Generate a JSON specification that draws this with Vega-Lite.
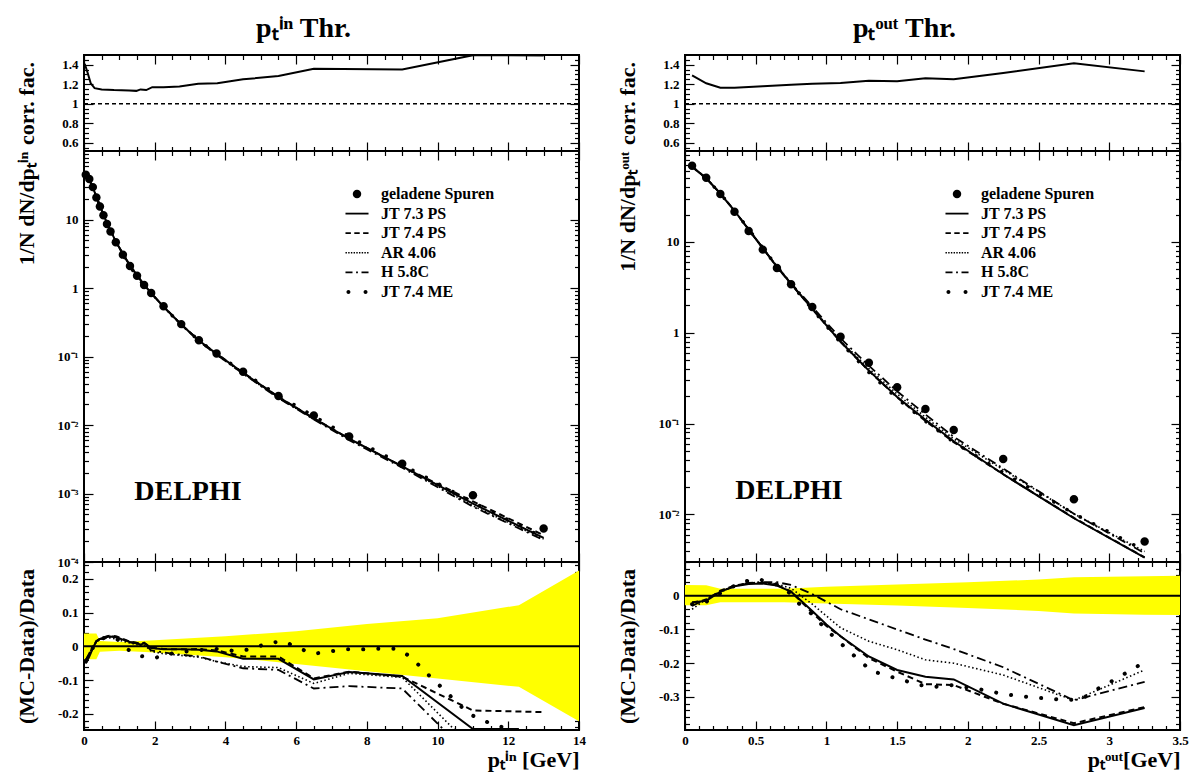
{
"$schema": "https://vega.github.io/schema/vega-lite/v6.json",
"padding": {"left": 14, "right": 0, "top": 13, "bottom": 0},
"background": "white",
"config": {
  "font": "Liberation Serif",
  "text": {"font": "Liberation Serif"},
  "view": {"stroke": "black", "strokeWidth": 2},
  "axis": {"grid": false, "domain": false, "tickColor": "black", "tickWidth": 1.2, "labelFont": "Liberation Serif", "labelFontWeight": "bold", "labelFontSize": 13, "labelColor": "black", "titleFont": "Liberation Serif", "titleFontWeight": "bold", "titleFontSize": 22, "titleColor": "black", "labelOverlap": false, "labelFlush": false, "labelBound": false}
},
"datasets": {
  "inCorr": [{"x":0.02,"y":1.41},{"x":0.1,"y":1.32},{"x":0.19,"y":1.21},{"x":0.3,"y":1.16},{"x":0.5,"y":1.147},{"x":0.85,"y":1.14},{"x":1.28,"y":1.137},{"x":1.48,"y":1.132},{"x":1.6,"y":1.147},{"x":1.76,"y":1.14},{"x":1.93,"y":1.17},{"x":2.25,"y":1.17},{"x":2.7,"y":1.178},{"x":3.23,"y":1.205},{"x":3.77,"y":1.21},{"x":4.5,"y":1.25},{"x":5.5,"y":1.284},{"x":6.5,"y":1.358},{"x":9.0,"y":1.352},{"x":11.0,"y":1.498},{"x":13.0,"y":1.495}],
  "outCorr": [{"x":0.05,"y":1.29},{"x":0.15,"y":1.21},{"x":0.25,"y":1.165},{"x":0.35,"y":1.165},{"x":0.55,"y":1.18},{"x":0.75,"y":1.195},{"x":0.9,"y":1.205},{"x":1.1,"y":1.212},{"x":1.3,"y":1.235},{"x":1.5,"y":1.23},{"x":1.7,"y":1.262},{"x":1.9,"y":1.25},{"x":2.25,"y":1.315},{"x":2.75,"y":1.415},{"x":3.25,"y":1.332}],
  "inBand": [{"x":0,"lo":-0.038,"hi":0.038},{"x":0.35,"lo":-0.038,"hi":0.038},{"x":0.45,"lo":-0.016,"hi":0.016},{"x":1,"lo":-0.013,"hi":0.013},{"x":2,"lo":-0.018,"hi":0.018},{"x":4,"lo":-0.032,"hi":0.03},{"x":6,"lo":-0.052,"hi":0.045},{"x":8,"lo":-0.074,"hi":0.066},{"x":10,"lo":-0.095,"hi":0.083},{"x":12.3,"lo":-0.12,"hi":0.122},{"x":14,"lo":-0.222,"hi":0.225}],
  "outBand": [{"x":0,"lo":-0.028,"hi":0.032},{"x":0.15,"lo":-0.028,"hi":0.031},{"x":0.25,"lo":-0.019,"hi":0.021},{"x":0.7,"lo":-0.019,"hi":0.021},{"x":1,"lo":-0.023,"hi":0.027},{"x":1.5,"lo":-0.029,"hi":0.033},{"x":2,"lo":-0.036,"hi":0.04},{"x":2.5,"lo":-0.045,"hi":0.048},{"x":2.75,"lo":-0.053,"hi":0.055},{"x":3.25,"lo":-0.056,"hi":0.058},{"x":3.5,"lo":-0.057,"hi":0.059}],
  "inMain": [
    {"s":"geladene Spuren","x":0.05,"y":45},{"s":"geladene Spuren","x":0.15,"y":39},{"s":"geladene Spuren","x":0.25,"y":29.7},{"s":"geladene Spuren","x":0.35,"y":21},{"s":"geladene Spuren","x":0.45,"y":15.5},{"s":"geladene Spuren","x":0.55,"y":11.5},{"s":"geladene Spuren","x":0.65,"y":8.6},{"s":"geladene Spuren","x":0.75,"y":6.7},{"s":"geladene Spuren","x":0.9,"y":4.66},{"s":"geladene Spuren","x":1.1,"y":3.07},{"s":"geladene Spuren","x":1.3,"y":2.1},{"s":"geladene Spuren","x":1.5,"y":1.51},{"s":"geladene Spuren","x":1.7,"y":1.11},{"s":"geladene Spuren","x":1.9,"y":0.845},{"s":"geladene Spuren","x":2.25,"y":0.54},{"s":"geladene Spuren","x":2.75,"y":0.297},{"s":"geladene Spuren","x":3.25,"y":0.173},{"s":"geladene Spuren","x":3.75,"y":0.111},{"s":"geladene Spuren","x":4.5,"y":0.06},{"s":"geladene Spuren","x":5.5,"y":0.0265},{"s":"geladene Spuren","x":6.5,"y":0.0138},{"s":"geladene Spuren","x":7.5,"y":0.00682},{"s":"geladene Spuren","x":9,"y":0.00272},{"s":"geladene Spuren","x":11,"y":0.000946},{"s":"geladene Spuren","x":13,"y":0.000308},
    {"s":"JT 7.3 PS","x":0.05,"y":42.8},{"s":"JT 7.3 PS","x":0.15,"y":37.8},{"s":"JT 7.3 PS","x":0.25,"y":29.6},{"s":"JT 7.3 PS","x":0.35,"y":21.3},{"s":"JT 7.3 PS","x":0.45,"y":15.8},{"s":"JT 7.3 PS","x":0.55,"y":11.8},{"s":"JT 7.3 PS","x":0.65,"y":8.84},{"s":"JT 7.3 PS","x":0.75,"y":6.89},{"s":"JT 7.3 PS","x":0.9,"y":4.79},{"s":"JT 7.3 PS","x":1.1,"y":3.13},{"s":"JT 7.3 PS","x":1.3,"y":2.13},{"s":"JT 7.3 PS","x":1.5,"y":1.525},{"s":"JT 7.3 PS","x":1.7,"y":1.122},{"s":"JT 7.3 PS","x":1.9,"y":0.841},{"s":"JT 7.3 PS","x":2.25,"y":0.535},{"s":"JT 7.3 PS","x":2.75,"y":0.294},{"s":"JT 7.3 PS","x":3.25,"y":0.171},{"s":"JT 7.3 PS","x":3.75,"y":0.1093},{"s":"JT 7.3 PS","x":4.5,"y":0.0578},{"s":"JT 7.3 PS","x":5.5,"y":0.0255},{"s":"JT 7.3 PS","x":6.5,"y":0.01245},{"s":"JT 7.3 PS","x":7.5,"y":0.0063},{"s":"JT 7.3 PS","x":9,"y":0.00248},{"s":"JT 7.3 PS","x":11,"y":0.00071},{"s":"JT 7.3 PS","x":13,"y":0.000225},
    {"s":"JT 7.4 PS","x":0.05,"y":43.2},{"s":"JT 7.4 PS","x":0.15,"y":38.0},{"s":"JT 7.4 PS","x":0.25,"y":29.7},{"s":"JT 7.4 PS","x":0.35,"y":21.3},{"s":"JT 7.4 PS","x":0.45,"y":15.8},{"s":"JT 7.4 PS","x":0.55,"y":11.8},{"s":"JT 7.4 PS","x":0.65,"y":8.86},{"s":"JT 7.4 PS","x":0.75,"y":6.91},{"s":"JT 7.4 PS","x":0.9,"y":4.8},{"s":"JT 7.4 PS","x":1.1,"y":3.14},{"s":"JT 7.4 PS","x":1.3,"y":2.13},{"s":"JT 7.4 PS","x":1.5,"y":1.525},{"s":"JT 7.4 PS","x":1.7,"y":1.121},{"s":"JT 7.4 PS","x":1.9,"y":0.842},{"s":"JT 7.4 PS","x":2.25,"y":0.536},{"s":"JT 7.4 PS","x":2.75,"y":0.294},{"s":"JT 7.4 PS","x":3.25,"y":0.172},{"s":"JT 7.4 PS","x":3.75,"y":0.1097},{"s":"JT 7.4 PS","x":4.5,"y":0.0582},{"s":"JT 7.4 PS","x":5.5,"y":0.0257},{"s":"JT 7.4 PS","x":6.5,"y":0.01249},{"s":"JT 7.4 PS","x":7.5,"y":0.00631},{"s":"JT 7.4 PS","x":9,"y":0.00248},{"s":"JT 7.4 PS","x":11,"y":0.000766},{"s":"JT 7.4 PS","x":13,"y":0.000246},
    {"s":"AR 4.06","x":0.05,"y":43.0},{"s":"AR 4.06","x":0.15,"y":37.8},{"s":"AR 4.06","x":0.25,"y":29.6},{"s":"AR 4.06","x":0.35,"y":21.3},{"s":"AR 4.06","x":0.45,"y":15.8},{"s":"AR 4.06","x":0.55,"y":11.75},{"s":"AR 4.06","x":0.65,"y":8.82},{"s":"AR 4.06","x":0.75,"y":6.87},{"s":"AR 4.06","x":0.9,"y":4.76},{"s":"AR 4.06","x":1.1,"y":3.12},{"s":"AR 4.06","x":1.3,"y":2.12},{"s":"AR 4.06","x":1.5,"y":1.518},{"s":"AR 4.06","x":1.7,"y":1.116},{"s":"AR 4.06","x":1.9,"y":0.832},{"s":"AR 4.06","x":2.25,"y":0.528},{"s":"AR 4.06","x":2.75,"y":0.289},{"s":"AR 4.06","x":3.25,"y":0.1675},{"s":"AR 4.06","x":3.75,"y":0.106},{"s":"AR 4.06","x":4.5,"y":0.0564},{"s":"AR 4.06","x":5.5,"y":0.0248},{"s":"AR 4.06","x":6.5,"y":0.01228},{"s":"AR 4.06","x":7.5,"y":0.00627},{"s":"AR 4.06","x":9,"y":0.00247},{"s":"AR 4.06","x":11,"y":0.000662},{"s":"AR 4.06","x":13,"y":0.000216},
    {"s":"H 5.8C","x":0.05,"y":43.2},{"s":"H 5.8C","x":0.15,"y":38.2},{"s":"H 5.8C","x":0.25,"y":29.7},{"s":"H 5.8C","x":0.35,"y":21.3},{"s":"H 5.8C","x":0.45,"y":15.8},{"s":"H 5.8C","x":0.55,"y":11.8},{"s":"H 5.8C","x":0.65,"y":8.84},{"s":"H 5.8C","x":0.75,"y":6.9},{"s":"H 5.8C","x":0.9,"y":4.79},{"s":"H 5.8C","x":1.1,"y":3.13},{"s":"H 5.8C","x":1.3,"y":2.13},{"s":"H 5.8C","x":1.5,"y":1.522},{"s":"H 5.8C","x":1.7,"y":1.119},{"s":"H 5.8C","x":1.9,"y":0.835},{"s":"H 5.8C","x":2.25,"y":0.53},{"s":"H 5.8C","x":2.75,"y":0.29},{"s":"H 5.8C","x":3.25,"y":0.168},{"s":"H 5.8C","x":3.75,"y":0.106},{"s":"H 5.8C","x":4.5,"y":0.0561},{"s":"H 5.8C","x":5.5,"y":0.0246},{"s":"H 5.8C","x":6.5,"y":0.01208},{"s":"H 5.8C","x":7.5,"y":0.00602},{"s":"H 5.8C","x":9,"y":0.00238},{"s":"H 5.8C","x":11,"y":0.000643},{"s":"H 5.8C","x":13,"y":0.000209},
    {"s":"JT 7.4 ME","x":0.05,"y":43.0},{"s":"JT 7.4 ME","x":0.15,"y":38.0},{"s":"JT 7.4 ME","x":0.25,"y":29.6},{"s":"JT 7.4 ME","x":0.35,"y":21.2},{"s":"JT 7.4 ME","x":0.45,"y":15.8},{"s":"JT 7.4 ME","x":0.55,"y":11.8},{"s":"JT 7.4 ME","x":0.65,"y":8.86},{"s":"JT 7.4 ME","x":0.75,"y":6.9},{"s":"JT 7.4 ME","x":0.9,"y":4.76},{"s":"JT 7.4 ME","x":1.1,"y":3.07},{"s":"JT 7.4 ME","x":1.3,"y":2.07},{"s":"JT 7.4 ME","x":1.5,"y":1.47},{"s":"JT 7.4 ME","x":1.7,"y":1.075},{"s":"JT 7.4 ME","x":1.9,"y":0.815},{"s":"JT 7.4 ME","x":2.25,"y":0.527},{"s":"JT 7.4 ME","x":2.75,"y":0.292},{"s":"JT 7.4 ME","x":3.25,"y":0.171},{"s":"JT 7.4 ME","x":3.75,"y":0.1101},{"s":"JT 7.4 ME","x":4.5,"y":0.0593},{"s":"JT 7.4 ME","x":5.5,"y":0.0268},{"s":"JT 7.4 ME","x":6.5,"y":0.0135},{"s":"JT 7.4 ME","x":7.5,"y":0.00676},{"s":"JT 7.4 ME","x":9,"y":0.00264},{"s":"JT 7.4 ME","x":11,"y":0.000747},{"s":"JT 7.4 ME","x":13,"y":0.000228}
  ],
  "outMain": [
    {"s":"geladene Spuren","x":0.05,"y":68.9},{"s":"geladene Spuren","x":0.15,"y":50.8},{"s":"geladene Spuren","x":0.25,"y":33.6},{"s":"geladene Spuren","x":0.35,"y":21.4},{"s":"geladene Spuren","x":0.45,"y":13.2},{"s":"geladene Spuren","x":0.55,"y":8.22},{"s":"geladene Spuren","x":0.65,"y":5.16},{"s":"geladene Spuren","x":0.75,"y":3.41},{"s":"geladene Spuren","x":0.9,"y":1.92},{"s":"geladene Spuren","x":1.1,"y":0.903},{"s":"geladene Spuren","x":1.3,"y":0.467},{"s":"geladene Spuren","x":1.5,"y":0.252},{"s":"geladene Spuren","x":1.7,"y":0.145},{"s":"geladene Spuren","x":1.9,"y":0.085},{"s":"geladene Spuren","x":2.25,"y":0.0407},{"s":"geladene Spuren","x":2.75,"y":0.01475},{"s":"geladene Spuren","x":3.25,"y":0.00503},
    {"s":"JT 7.3 PS","x":0.05,"y":67.5},{"s":"JT 7.3 PS","x":0.15,"y":50.0},{"s":"JT 7.3 PS","x":0.25,"y":34.0},{"s":"JT 7.3 PS","x":0.35,"y":22.0},{"s":"JT 7.3 PS","x":0.45,"y":13.66},{"s":"JT 7.3 PS","x":0.55,"y":8.52},{"s":"JT 7.3 PS","x":0.65,"y":5.31},{"s":"JT 7.3 PS","x":0.75,"y":3.45},{"s":"JT 7.3 PS","x":0.9,"y":1.834},{"s":"JT 7.3 PS","x":1.1,"y":0.795},{"s":"JT 7.3 PS","x":1.3,"y":0.383},{"s":"JT 7.3 PS","x":1.5,"y":0.1966},{"s":"JT 7.3 PS","x":1.7,"y":0.1102},{"s":"JT 7.3 PS","x":1.9,"y":0.0639},{"s":"JT 7.3 PS","x":2.25,"y":0.0277},{"s":"JT 7.3 PS","x":2.75,"y":0.00909},{"s":"JT 7.3 PS","x":3.25,"y":0.00335},
    {"s":"JT 7.4 PS","x":0.05,"y":67.5},{"s":"JT 7.4 PS","x":0.15,"y":50.2},{"s":"JT 7.4 PS","x":0.25,"y":34.1},{"s":"JT 7.4 PS","x":0.35,"y":22.04},{"s":"JT 7.4 PS","x":0.45,"y":13.69},{"s":"JT 7.4 PS","x":0.55,"y":8.53},{"s":"JT 7.4 PS","x":0.65,"y":5.33},{"s":"JT 7.4 PS","x":0.75,"y":3.45},{"s":"JT 7.4 PS","x":0.9,"y":1.824},{"s":"JT 7.4 PS","x":1.1,"y":0.795},{"s":"JT 7.4 PS","x":1.3,"y":0.381},{"s":"JT 7.4 PS","x":1.5,"y":0.1953},{"s":"JT 7.4 PS","x":1.7,"y":0.107},{"s":"JT 7.4 PS","x":1.9,"y":0.0625},{"s":"JT 7.4 PS","x":2.25,"y":0.0277},{"s":"JT 7.4 PS","x":2.75,"y":0.00917},{"s":"JT 7.4 PS","x":3.25,"y":0.00337},
    {"s":"AR 4.06","x":0.05,"y":66.1},{"s":"AR 4.06","x":0.15,"y":50.3},{"s":"AR 4.06","x":0.25,"y":33.9},{"s":"AR 4.06","x":0.35,"y":22.04},{"s":"AR 4.06","x":0.45,"y":13.7},{"s":"AR 4.06","x":0.55,"y":8.55},{"s":"AR 4.06","x":0.65,"y":5.34},{"s":"AR 4.06","x":0.75,"y":3.49},{"s":"AR 4.06","x":0.9,"y":1.872},{"s":"AR 4.06","x":1.1,"y":0.817},{"s":"AR 4.06","x":1.3,"y":0.404},{"s":"AR 4.06","x":1.5,"y":0.2117},{"s":"AR 4.06","x":1.7,"y":0.1175},{"s":"AR 4.06","x":1.9,"y":0.068},{"s":"AR 4.06","x":2.25,"y":0.0311},{"s":"AR 4.06","x":2.75,"y":0.01018},{"s":"AR 4.06","x":3.25,"y":0.00392},
    {"s":"H 5.8C","x":0.05,"y":66.8},{"s":"H 5.8C","x":0.15,"y":50.3},{"s":"H 5.8C","x":0.25,"y":34.0},{"s":"H 5.8C","x":0.35,"y":22.0},{"s":"H 5.8C","x":0.45,"y":13.7},{"s":"H 5.8C","x":0.55,"y":8.55},{"s":"H 5.8C","x":0.65,"y":5.37},{"s":"H 5.8C","x":0.75,"y":3.52},{"s":"H 5.8C","x":0.9,"y":1.93},{"s":"H 5.8C","x":1.1,"y":0.867},{"s":"H 5.8C","x":1.3,"y":0.434},{"s":"H 5.8C","x":1.5,"y":0.2268},{"s":"H 5.8C","x":1.7,"y":0.1262},{"s":"H 5.8C","x":1.9,"y":0.0716},{"s":"H 5.8C","x":2.25,"y":0.0321},{"s":"H 5.8C","x":2.75,"y":0.01018},{"s":"H 5.8C","x":3.25,"y":0.00375},
    {"s":"JT 7.4 ME","x":0.05,"y":67.2},{"s":"JT 7.4 ME","x":0.15,"y":49.9},{"s":"JT 7.4 ME","x":0.25,"y":33.9},{"s":"JT 7.4 ME","x":0.35,"y":22.04},{"s":"JT 7.4 ME","x":0.45,"y":13.8},{"s":"JT 7.4 ME","x":0.55,"y":8.61},{"s":"JT 7.4 ME","x":0.65,"y":5.34},{"s":"JT 7.4 ME","x":0.75,"y":3.41},{"s":"JT 7.4 ME","x":0.9,"y":1.814},{"s":"JT 7.4 ME","x":1.1,"y":0.777},{"s":"JT 7.4 ME","x":1.3,"y":0.367},{"s":"JT 7.4 ME","x":1.5,"y":0.189},{"s":"JT 7.4 ME","x":1.7,"y":0.1061},{"s":"JT 7.4 ME","x":1.9,"y":0.0625},{"s":"JT 7.4 ME","x":2.25,"y":0.0289},{"s":"JT 7.4 ME","x":2.75,"y":0.01022},{"s":"JT 7.4 ME","x":3.25,"y":0.00402}
  ],
  "inRatio": [
    {"s":"JT 7.3 PS","x":0.05,"y":-0.05},{"s":"JT 7.3 PS","x":0.15,"y":-0.03},{"s":"JT 7.3 PS","x":0.25,"y":-0.005},{"s":"JT 7.3 PS","x":0.35,"y":0.015},{"s":"JT 7.3 PS","x":0.45,"y":0.022},{"s":"JT 7.3 PS","x":0.55,"y":0.024},{"s":"JT 7.3 PS","x":0.65,"y":0.028},{"s":"JT 7.3 PS","x":0.75,"y":0.029},{"s":"JT 7.3 PS","x":0.9,"y":0.027},{"s":"JT 7.3 PS","x":1.1,"y":0.02},{"s":"JT 7.3 PS","x":1.3,"y":0.013},{"s":"JT 7.3 PS","x":1.5,"y":0.01},{"s":"JT 7.3 PS","x":1.6,"y":0.004},{"s":"JT 7.3 PS","x":1.7,"y":0.011},{"s":"JT 7.3 PS","x":1.9,"y":-0.005},{"s":"JT 7.3 PS","x":2.25,"y":-0.009},{"s":"JT 7.3 PS","x":2.75,"y":-0.009},{"s":"JT 7.3 PS","x":3.25,"y":-0.01},{"s":"JT 7.3 PS","x":3.75,"y":-0.015},{"s":"JT 7.3 PS","x":4.5,"y":-0.037},{"s":"JT 7.3 PS","x":5.5,"y":-0.037},{"s":"JT 7.3 PS","x":6.5,"y":-0.098},{"s":"JT 7.3 PS","x":7.5,"y":-0.076},{"s":"JT 7.3 PS","x":9,"y":-0.088},{"s":"JT 7.3 PS","x":11,"y":-0.245},{"s":"JT 7.3 PS","x":12.3,"y":-0.245},
    {"s":"JT 7.4 PS","x":0.05,"y":-0.04},{"s":"JT 7.4 PS","x":0.15,"y":-0.025},{"s":"JT 7.4 PS","x":0.25,"y":0},{"s":"JT 7.4 PS","x":0.35,"y":0.015},{"s":"JT 7.4 PS","x":0.45,"y":0.022},{"s":"JT 7.4 PS","x":0.55,"y":0.026},{"s":"JT 7.4 PS","x":0.65,"y":0.03},{"s":"JT 7.4 PS","x":0.75,"y":0.032},{"s":"JT 7.4 PS","x":0.9,"y":0.03},{"s":"JT 7.4 PS","x":1.1,"y":0.022},{"s":"JT 7.4 PS","x":1.3,"y":0.014},{"s":"JT 7.4 PS","x":1.5,"y":0.01},{"s":"JT 7.4 PS","x":1.7,"y":0.01},{"s":"JT 7.4 PS","x":1.9,"y":-0.004},{"s":"JT 7.4 PS","x":2.25,"y":-0.008},{"s":"JT 7.4 PS","x":2.75,"y":-0.009},{"s":"JT 7.4 PS","x":3.25,"y":-0.008},{"s":"JT 7.4 PS","x":3.75,"y":-0.012},{"s":"JT 7.4 PS","x":4.5,"y":-0.03},{"s":"JT 7.4 PS","x":5.5,"y":-0.03},{"s":"JT 7.4 PS","x":6.5,"y":-0.095},{"s":"JT 7.4 PS","x":7.5,"y":-0.075},{"s":"JT 7.4 PS","x":9,"y":-0.09},{"s":"JT 7.4 PS","x":10.5,"y":-0.165},{"s":"JT 7.4 PS","x":11,"y":-0.19},{"s":"JT 7.4 PS","x":13,"y":-0.195},
    {"s":"AR 4.06","x":0.05,"y":-0.045},{"s":"AR 4.06","x":0.15,"y":-0.03},{"s":"AR 4.06","x":0.25,"y":-0.005},{"s":"AR 4.06","x":0.35,"y":0.013},{"s":"AR 4.06","x":0.45,"y":0.02},{"s":"AR 4.06","x":0.55,"y":0.022},{"s":"AR 4.06","x":0.65,"y":0.025},{"s":"AR 4.06","x":0.75,"y":0.025},{"s":"AR 4.06","x":0.9,"y":0.022},{"s":"AR 4.06","x":1.1,"y":0.015},{"s":"AR 4.06","x":1.3,"y":0.01},{"s":"AR 4.06","x":1.5,"y":0.005},{"s":"AR 4.06","x":1.7,"y":0.005},{"s":"AR 4.06","x":1.9,"y":-0.015},{"s":"AR 4.06","x":2.25,"y":-0.022},{"s":"AR 4.06","x":2.75,"y":-0.027},{"s":"AR 4.06","x":3.25,"y":-0.032},{"s":"AR 4.06","x":3.75,"y":-0.045},{"s":"AR 4.06","x":4.5,"y":-0.06},{"s":"AR 4.06","x":5.5,"y":-0.063},{"s":"AR 4.06","x":6.5,"y":-0.11},{"s":"AR 4.06","x":7.5,"y":-0.08},{"s":"AR 4.06","x":9,"y":-0.092},{"s":"AR 4.06","x":10.6,"y":-0.26},
    {"s":"H 5.8C","x":0.05,"y":-0.04},{"s":"H 5.8C","x":0.15,"y":-0.02},{"s":"H 5.8C","x":0.25,"y":0},{"s":"H 5.8C","x":0.35,"y":0.015},{"s":"H 5.8C","x":0.45,"y":0.022},{"s":"H 5.8C","x":0.55,"y":0.025},{"s":"H 5.8C","x":0.65,"y":0.028},{"s":"H 5.8C","x":0.75,"y":0.03},{"s":"H 5.8C","x":0.9,"y":0.027},{"s":"H 5.8C","x":1.1,"y":0.02},{"s":"H 5.8C","x":1.3,"y":0.012},{"s":"H 5.8C","x":1.5,"y":0.008},{"s":"H 5.8C","x":1.7,"y":0.008},{"s":"H 5.8C","x":1.9,"y":-0.012},{"s":"H 5.8C","x":2.25,"y":-0.018},{"s":"H 5.8C","x":2.75,"y":-0.025},{"s":"H 5.8C","x":3.25,"y":-0.03},{"s":"H 5.8C","x":3.75,"y":-0.045},{"s":"H 5.8C","x":4.5,"y":-0.065},{"s":"H 5.8C","x":5.5,"y":-0.07},{"s":"H 5.8C","x":6.5,"y":-0.125},{"s":"H 5.8C","x":7.5,"y":-0.118},{"s":"H 5.8C","x":9,"y":-0.125},{"s":"H 5.8C","x":10.3,"y":-0.26},
    {"s":"JT 7.4 ME","x":0.05,"y":-0.045},{"s":"JT 7.4 ME","x":0.25,"y":-0.005},{"s":"JT 7.4 ME","x":0.45,"y":0.02},{"s":"JT 7.4 ME","x":0.7,"y":0.03},{"s":"JT 7.4 ME","x":0.95,"y":0.02},{"s":"JT 7.4 ME","x":1.17,"y":-0.005},{"s":"JT 7.4 ME","x":1.55,"y":-0.028},{"s":"JT 7.4 ME","x":1.98,"y":-0.035},{"s":"JT 7.4 ME","x":2.45,"y":-0.022},{"s":"JT 7.4 ME","x":2.9,"y":-0.015},{"s":"JT 7.4 ME","x":3.4,"y":-0.01},{"s":"JT 7.4 ME","x":3.85,"y":-0.007},{"s":"JT 7.4 ME","x":4.3,"y":-0.015},{"s":"JT 7.4 ME","x":4.75,"y":-0.008},{"s":"JT 7.4 ME","x":5.2,"y":0.01},{"s":"JT 7.4 ME","x":5.65,"y":0.015},{"s":"JT 7.4 ME","x":6.05,"y":-0.005},{"s":"JT 7.4 ME","x":6.5,"y":-0.022},{"s":"JT 7.4 ME","x":6.96,"y":-0.015},{"s":"JT 7.4 ME","x":7.42,"y":-0.009},{"s":"JT 7.4 ME","x":7.88,"y":-0.009},{"s":"JT 7.4 ME","x":8.37,"y":-0.007},{"s":"JT 7.4 ME","x":8.82,"y":-0.007},{"s":"JT 7.4 ME","x":9.2,"y":-0.028},{"s":"JT 7.4 ME","x":9.54,"y":-0.063},{"s":"JT 7.4 ME","x":9.86,"y":-0.097},{"s":"JT 7.4 ME","x":10.2,"y":-0.13},{"s":"JT 7.4 ME","x":10.53,"y":-0.165},{"s":"JT 7.4 ME","x":10.89,"y":-0.2},{"s":"JT 7.4 ME","x":11.29,"y":-0.22},{"s":"JT 7.4 ME","x":11.73,"y":-0.237},{"s":"JT 7.4 ME","x":11.94,"y":-0.242}
  ],
  "outRatio": [
    {"s":"JT 7.3 PS","x":0.05,"y":-0.02},{"s":"JT 7.3 PS","x":0.15,"y":-0.015},{"s":"JT 7.3 PS","x":0.25,"y":0.012},{"s":"JT 7.3 PS","x":0.35,"y":0.028},{"s":"JT 7.3 PS","x":0.45,"y":0.035},{"s":"JT 7.3 PS","x":0.55,"y":0.036},{"s":"JT 7.3 PS","x":0.65,"y":0.03},{"s":"JT 7.3 PS","x":0.75,"y":0.012},{"s":"JT 7.3 PS","x":0.9,"y":-0.045},{"s":"JT 7.3 PS","x":1.0,"y":-0.085},{"s":"JT 7.3 PS","x":1.1,"y":-0.12},{"s":"JT 7.3 PS","x":1.3,"y":-0.18},{"s":"JT 7.3 PS","x":1.5,"y":-0.22},{"s":"JT 7.3 PS","x":1.7,"y":-0.24},{"s":"JT 7.3 PS","x":1.9,"y":-0.248},{"s":"JT 7.3 PS","x":2.25,"y":-0.32},{"s":"JT 7.3 PS","x":2.75,"y":-0.384},{"s":"JT 7.3 PS","x":3.25,"y":-0.333},
    {"s":"JT 7.4 PS","x":0.05,"y":-0.02},{"s":"JT 7.4 PS","x":0.15,"y":-0.012},{"s":"JT 7.4 PS","x":0.25,"y":0.015},{"s":"JT 7.4 PS","x":0.35,"y":0.03},{"s":"JT 7.4 PS","x":0.45,"y":0.037},{"s":"JT 7.4 PS","x":0.55,"y":0.038},{"s":"JT 7.4 PS","x":0.65,"y":0.032},{"s":"JT 7.4 PS","x":0.75,"y":0.012},{"s":"JT 7.4 PS","x":0.9,"y":-0.05},{"s":"JT 7.4 PS","x":1.0,"y":-0.09},{"s":"JT 7.4 PS","x":1.1,"y":-0.12},{"s":"JT 7.4 PS","x":1.3,"y":-0.185},{"s":"JT 7.4 PS","x":1.5,"y":-0.225},{"s":"JT 7.4 PS","x":1.7,"y":-0.262},{"s":"JT 7.4 PS","x":1.9,"y":-0.265},{"s":"JT 7.4 PS","x":2.25,"y":-0.32},{"s":"JT 7.4 PS","x":2.75,"y":-0.378},{"s":"JT 7.4 PS","x":3.25,"y":-0.33},
    {"s":"AR 4.06","x":0.05,"y":-0.04},{"s":"AR 4.06","x":0.15,"y":-0.01},{"s":"AR 4.06","x":0.25,"y":0.01},{"s":"AR 4.06","x":0.35,"y":0.03},{"s":"AR 4.06","x":0.45,"y":0.038},{"s":"AR 4.06","x":0.55,"y":0.04},{"s":"AR 4.06","x":0.65,"y":0.035},{"s":"AR 4.06","x":0.75,"y":0.022},{"s":"AR 4.06","x":0.9,"y":-0.025},{"s":"AR 4.06","x":1.1,"y":-0.095},{"s":"AR 4.06","x":1.3,"y":-0.135},{"s":"AR 4.06","x":1.5,"y":-0.16},{"s":"AR 4.06","x":1.7,"y":-0.19},{"s":"AR 4.06","x":1.9,"y":-0.2},{"s":"AR 4.06","x":2.25,"y":-0.235},{"s":"AR 4.06","x":2.75,"y":-0.31},{"s":"AR 4.06","x":3.25,"y":-0.22},
    {"s":"H 5.8C","x":0.05,"y":-0.03},{"s":"H 5.8C","x":0.15,"y":-0.01},{"s":"H 5.8C","x":0.25,"y":0.012},{"s":"H 5.8C","x":0.35,"y":0.028},{"s":"H 5.8C","x":0.45,"y":0.038},{"s":"H 5.8C","x":0.55,"y":0.04},{"s":"H 5.8C","x":0.65,"y":0.04},{"s":"H 5.8C","x":0.75,"y":0.032},{"s":"H 5.8C","x":0.9,"y":0.005},{"s":"H 5.8C","x":1.1,"y":-0.04},{"s":"H 5.8C","x":1.3,"y":-0.07},{"s":"H 5.8C","x":1.5,"y":-0.1},{"s":"H 5.8C","x":1.7,"y":-0.13},{"s":"H 5.8C","x":1.9,"y":-0.158},{"s":"H 5.8C","x":2.25,"y":-0.212},{"s":"H 5.8C","x":2.75,"y":-0.31},{"s":"H 5.8C","x":3.25,"y":-0.255},
    {"s":"JT 7.4 ME","x":0.05,"y":-0.025},{"s":"JT 7.4 ME","x":0.15,"y":-0.018},{"s":"JT 7.4 ME","x":0.29,"y":0.017},{"s":"JT 7.4 ME","x":0.4,"y":0.04},{"s":"JT 7.4 ME","x":0.51,"y":0.05},{"s":"JT 7.4 ME","x":0.63,"y":0.037},{"s":"JT 7.4 ME","x":0.73,"y":0.012},{"s":"JT 7.4 ME","x":0.8,"y":-0.021},{"s":"JT 7.4 ME","x":0.9,"y":-0.055},{"s":"JT 7.4 ME","x":0.98,"y":-0.092},{"s":"JT 7.4 ME","x":1.06,"y":-0.125},{"s":"JT 7.4 ME","x":1.15,"y":-0.16},{"s":"JT 7.4 ME","x":1.23,"y":-0.191},{"s":"JT 7.4 ME","x":1.32,"y":-0.223},{"s":"JT 7.4 ME","x":1.42,"y":-0.236},{"s":"JT 7.4 ME","x":1.54,"y":-0.25},{"s":"JT 7.4 ME","x":1.66,"y":-0.265},{"s":"JT 7.4 ME","x":1.77,"y":-0.27},{"s":"JT 7.4 ME","x":1.89,"y":-0.265},{"s":"JT 7.4 ME","x":2.0,"y":-0.272},{"s":"JT 7.4 ME","x":2.12,"y":-0.28},{"s":"JT 7.4 ME","x":2.23,"y":-0.29},{"s":"JT 7.4 ME","x":2.35,"y":-0.297},{"s":"JT 7.4 ME","x":2.47,"y":-0.302},{"s":"JT 7.4 ME","x":2.58,"y":-0.305},{"s":"JT 7.4 ME","x":2.7,"y":-0.31},{"s":"JT 7.4 ME","x":2.81,"y":-0.305},{"s":"JT 7.4 ME","x":2.9,"y":-0.28},{"s":"JT 7.4 ME","x":3.02,"y":-0.253},{"s":"JT 7.4 ME","x":3.11,"y":-0.231},{"s":"JT 7.4 ME","x":3.22,"y":-0.204}
  ]
},
"spacing": 28,
"resolve": {"scale": {"shape": "independent"}},
"hconcat": [
 {"vconcat": [
  {"width": 495, "height": 96,
   "title": {"text": "pₜⁱⁿ Thr.", "font": "Liberation Serif", "fontSize": 28, "fontWeight": "bold", "color": "black", "anchor": "middle", "dx": -28, "offset": -11, "baseline": "alphabetic"},
   "layer": [
    {"data": {"name": "inCorr"}, "mark": {"type": "line", "color": "black", "strokeWidth": 2, "clip": true},
     "encoding": {
      "x": {"field": "x", "type": "quantitative", "scale": {"domain": [0, 14], "nice": false, "zero": false},
            "axis": {"orient": "bottom", "values": [0,0.5,1,1.5,2,2.5,3,3.5,4,4.5,5,5.5,6,6.5,7,7.5,8,8.5,9,9.5,10,10.5,11,11.5,12,12.5,13,13.5,14], "labels": false, "title": null, "tickSize": {"condition": {"test": "abs(datum.value/2-round(datum.value/2))<1e-6", "value": -9}, "value": -4.5}}},
      "y": {"field": "y", "type": "quantitative", "scale": {"domain": [0.515, 1.5], "nice": false, "zero": false},
            "axis": {"orient": "left", "values": [0.55,0.6,0.65,0.7,0.75,0.8,0.85,0.9,0.95,1,1.05,1.1,1.15,1.2,1.25,1.3,1.35,1.4,1.45], "labelExpr": "abs(datum.value*5-round(datum.value*5))<1e-6 ? format(datum.value,'~g') : ''", "labelPadding": 15, "title": "corr. fac.", "titlePadding": 12, "minExtent": 34, "maxExtent": 34, "tickSize": {"condition": {"test": "abs(datum.value*5-round(datum.value*5))<1e-6", "value": -9}, "value": -4.5}}}
     }},
    {"data": {"values": [{"ref": 1}]}, "mark": {"type": "rule", "color": "black", "strokeWidth": 1.5, "strokeDash": [4, 3]},
     "encoding": {
      "x": {"datum": 0, "type": "quantitative", "axis": {"orient": "top", "values": [0,0.5,1,1.5,2,2.5,3,3.5,4,4.5,5,5.5,6,6.5,7,7.5,8,8.5,9,9.5,10,10.5,11,11.5,12,12.5,13,13.5,14], "labels": false, "title": null, "tickSize": {"condition": {"test": "abs(datum.value/2-round(datum.value/2))<1e-6", "value": -9}, "value": -4.5}}},
      "x2": {"datum": 14},
      "y": {"field": "ref", "type": "quantitative", "axis": {"orient": "right", "values": [0.55,0.6,0.65,0.7,0.75,0.8,0.85,0.9,0.95,1,1.05,1.1,1.15,1.2,1.25,1.3,1.35,1.4,1.45], "labels": false, "title": null, "tickSize": {"condition": {"test": "abs(datum.value*5-round(datum.value*5))<1e-6", "value": -9}, "value": -4.5}}}
     }}
   ],
   "resolve": {"axis": {"x": "independent", "y": "independent"}}
  },
  {"width": 495, "height": 411,
   "layer": [
    {"data": {"name": "inMain"}, "transform": [{"filter": "datum.s == 'JT 7.3 PS'"}], "mark": {"type": "line", "color": "black", "strokeWidth": 2, "clip": true},
     "encoding": {
      "x": {"field": "x", "type": "quantitative", "scale": {"domain": [0, 14], "nice": false, "zero": false},
            "axis": {"orient": "bottom", "values": [0,0.5,1,1.5,2,2.5,3,3.5,4,4.5,5,5.5,6,6.5,7,7.5,8,8.5,9,9.5,10,10.5,11,11.5,12,12.5,13,13.5,14], "labels": false, "title": null, "tickSize": {"condition": {"test": "abs(datum.value/2-round(datum.value/2))<1e-6", "value": -9}, "value": -4.5}}},
      "y": {"field": "y", "type": "quantitative", "scale": {"type": "log", "domain": [0.0001, 100], "nice": false},
            "axis": {"orient": "left", "values": [0.0001,0.0002,0.0003,0.0004,0.0005,0.0006,0.0007,0.0008,0.0009,0.001,0.002,0.003,0.004,0.005,0.006,0.007,0.008,0.009,0.01,0.02,0.03,0.04,0.05,0.06,0.07,0.08,0.09,0.1,0.2,0.3,0.4,0.5,0.6,0.7,0.8,0.9,1,2,3,4,5,6,7,8,9,10,20,30,40,50,60,70,80,90], "labelExpr": "datum.value == 10 ? '10' : datum.value == 1 ? '1' : datum.value == 0.1 ? '10⁻¹' : datum.value == 0.01 ? '10⁻²' : datum.value == 0.001 ? '10⁻³' : datum.value == 0.0001 ? '10⁻⁴' : ''", "labelPadding": 15, "title": "1/N dN/dpₜⁱⁿ", "titleAnchor": "end", "titlePadding": 12, "minExtent": 34, "maxExtent": 34, "tickSize": {"condition": {"test": "abs(log(datum.value)/LN10-round(log(datum.value)/LN10))<1e-6", "value": -9}, "value": -4.5}}}
     }},
    {"data": {"name": "inMain"}, "transform": [{"filter": "datum.s == 'JT 7.4 PS'"}], "mark": {"type": "line", "color": "black", "strokeWidth": 2, "strokeDash": [6, 4], "clip": true},
     "encoding": {"x": {"field": "x", "type": "quantitative", "axis": null}, "y": {"field": "y", "type": "quantitative", "axis": null}}},
    {"data": {"name": "inMain"}, "transform": [{"filter": "datum.s == 'AR 4.06'"}], "mark": {"type": "line", "color": "black", "strokeWidth": 1.6, "strokeDash": [1.5, 2.5], "clip": true},
     "encoding": {"x": {"field": "x", "type": "quantitative", "axis": null}, "y": {"field": "y", "type": "quantitative", "axis": null}}},
    {"data": {"name": "inMain"}, "transform": [{"filter": "datum.s == 'H 5.8C'"}], "mark": {"type": "line", "color": "black", "strokeWidth": 1.8, "strokeDash": [9, 4, 2, 4], "clip": true},
     "encoding": {"x": {"field": "x", "type": "quantitative", "axis": null}, "y": {"field": "y", "type": "quantitative", "axis": null}}},
    {"data": {"name": "inMain"}, "transform": [{"filter": "datum.s == 'JT 7.4 ME'"}], "mark": {"type": "line", "color": "black", "strokeWidth": 3.5, "strokeDash": [0.1, 15], "strokeCap": "round", "clip": true},
     "encoding": {"x": {"field": "x", "type": "quantitative", "axis": null}, "y": {"field": "y", "type": "quantitative", "axis": null}}},
    {"data": {"name": "inMain"}, "transform": [{"filter": "datum.s == 'geladene Spuren'"}], "mark": {"type": "point", "filled": true, "color": "black", "opacity": 1, "size": 324},
     "encoding": {
      "x": {"field": "x", "type": "quantitative", "axis": {"orient": "top", "values": [0,0.5,1,1.5,2,2.5,3,3.5,4,4.5,5,5.5,6,6.5,7,7.5,8,8.5,9,9.5,10,10.5,11,11.5,12,12.5,13,13.5,14], "labels": false, "title": null, "tickSize": {"condition": {"test": "abs(datum.value/2-round(datum.value/2))<1e-6", "value": -9}, "value": -4.5}}},
      "y": {"field": "y", "type": "quantitative", "axis": {"orient": "right", "values": [0.0001,0.0002,0.0003,0.0004,0.0005,0.0006,0.0007,0.0008,0.0009,0.001,0.002,0.003,0.004,0.005,0.006,0.007,0.008,0.009,0.01,0.02,0.03,0.04,0.05,0.06,0.07,0.08,0.09,0.1,0.2,0.3,0.4,0.5,0.6,0.7,0.8,0.9,1,2,3,4,5,6,7,8,9,10,20,30,40,50,60,70,80,90], "labels": false, "title": null, "tickSize": {"condition": {"test": "abs(log(datum.value)/LN10-round(log(datum.value)/LN10))<1e-6", "value": -9}, "value": -4.5}}},
      "shape": {"field": "s", "type": "nominal",
        "scale": {"domain": ["geladene Spuren", "JT 7.3 PS", "JT 7.4 PS", "AR 4.06", "H 5.8C", "JT 7.4 ME"],
                  "range": ["M-0.47,0A0.47,0.47,0,1,0,0.47,0A0.47,0.47,0,1,0,-0.47,0Z", "M-1.28,-0.1H1.28V0.1H-1.28Z", "M-1.28,-0.1H-0.68V0.1H-1.28ZM-0.3,-0.1H0.3V0.1H-0.3ZM0.68,-0.1H1.28V0.1H0.68Z", "M-1.28,-0.08h0.16v0.16h-0.16ZM-0.98,-0.08h0.16v0.16h-0.16ZM-0.68,-0.08h0.16v0.16h-0.16ZM-0.38,-0.08h0.16v0.16h-0.16ZM-0.08,-0.08h0.16v0.16h-0.16ZM0.22,-0.08h0.16v0.16h-0.16ZM0.52,-0.08h0.16v0.16h-0.16ZM0.82,-0.08h0.16v0.16h-0.16ZM1.12,-0.08h0.16v0.16h-0.16Z", "M-1.28,-0.1H-0.5V0.1H-1.28ZM-0.1,-0.1H0.1V0.1H-0.1ZM0.5,-0.1H1.28V0.1H0.5Z", "M-1.17,0A0.22,0.22,0,1,0,-0.73,0A0.22,0.22,0,1,0,-1.17,0ZM0.73,0A0.22,0.22,0,1,0,1.17,0A0.22,0.22,0,1,0,0.73,0Z"]},
        "legend": {"orient": "none", "legendX": 264, "legendY": 34, "title": null, "labelFont": "Liberation Serif", "labelFontWeight": "bold", "labelFontSize": 16, "labelColor": "black", "symbolSize": 324, "labelOffset": 15, "rowPadding": 2.6, "padding": 0, "symbolFillColor": "black", "symbolStrokeWidth": 0}}
     }},
    {"data": {"values": [{"label": "DELPHI"}]}, "mark": {"type": "text", "font": "Liberation Serif", "fontWeight": "bold", "fontSize": 28, "color": "black", "align": "center", "baseline": "middle"},
     "encoding": {"x": {"datum": 2.94, "type": "quantitative", "axis": null}, "y": {"datum": 0.00105, "type": "quantitative", "axis": null}, "text": {"field": "label"}}}
   ],
   "resolve": {"axis": {"x": "independent", "y": "independent"}}
  },
  {"width": 495, "height": 168,
   "layer": [
    {"data": {"name": "inBand"}, "mark": {"type": "area", "color": "#ffff00", "opacity": 1, "clip": true},
     "encoding": {
      "x": {"field": "x", "type": "quantitative", "scale": {"domain": [0, 14], "nice": false, "zero": false},
            "axis": {"orient": "bottom", "values": [0,0.5,1,1.5,2,2.5,3,3.5,4,4.5,5,5.5,6,6.5,7,7.5,8,8.5,9,9.5,10,10.5,11,11.5,12,12.5,13,13.5,14], "labelExpr": "abs(datum.value/2-round(datum.value/2))<1e-6 ? format(datum.value,'d') : ''", "labelPadding": 13, "title": "pₜⁱⁿ [GeV]", "titleAnchor": "end", "titlePadding": -2, "tickSize": {"condition": {"test": "abs(datum.value/2-round(datum.value/2))<1e-6", "value": -9}, "value": -4.5}}},
      "y": {"field": "lo", "type": "quantitative", "scale": {"domain": [-0.248, 0.25], "nice": false, "zero": false},
            "axis": {"orient": "left", "values": [-0.24,-0.22,-0.2,-0.18,-0.16,-0.14,-0.12,-0.1,-0.08,-0.06,-0.04,-0.02,0,0.02,0.04,0.06,0.08,0.1,0.12,0.14,0.16,0.18,0.2,0.22,0.24], "labelExpr": "abs(datum.value*10-round(datum.value*10))<1e-6 ? (datum.value < 0 ? '-' : '') + format(abs(datum.value),'~g') : ''", "labelPadding": 15, "title": "(MC-Data)/Data", "titlePadding": 12, "minExtent": 34, "maxExtent": 34, "tickSize": {"condition": {"test": "abs(datum.value*10-round(datum.value*10))<1e-6", "value": -9}, "value": -4.5}}},
      "y2": {"field": "hi"}
     }},
    {"data": {"values": [{"ref": 0}]}, "mark": {"type": "rule", "color": "black", "strokeWidth": 2},
     "encoding": {
      "x": {"datum": 0, "type": "quantitative", "axis": {"orient": "top", "values": [0,0.5,1,1.5,2,2.5,3,3.5,4,4.5,5,5.5,6,6.5,7,7.5,8,8.5,9,9.5,10,10.5,11,11.5,12,12.5,13,13.5,14], "labels": false, "title": null, "tickSize": {"condition": {"test": "abs(datum.value/2-round(datum.value/2))<1e-6", "value": -9}, "value": -4.5}}},
      "x2": {"datum": 14},
      "y": {"field": "ref", "type": "quantitative", "axis": {"orient": "right", "values": [-0.24,-0.22,-0.2,-0.18,-0.16,-0.14,-0.12,-0.1,-0.08,-0.06,-0.04,-0.02,0,0.02,0.04,0.06,0.08,0.1,0.12,0.14,0.16,0.18,0.2,0.22,0.24], "labels": false, "title": null, "tickSize": {"condition": {"test": "abs(datum.value*10-round(datum.value*10))<1e-6", "value": -9}, "value": -4.5}}}
     }},
    {"data": {"name": "inRatio"}, "transform": [{"filter": "datum.s == 'JT 7.3 PS'"}], "mark": {"type": "line", "color": "black", "strokeWidth": 2, "clip": true},
     "encoding": {"x": {"field": "x", "type": "quantitative", "axis": null}, "y": {"field": "y", "type": "quantitative", "axis": null}}},
    {"data": {"name": "inRatio"}, "transform": [{"filter": "datum.s == 'JT 7.4 PS'"}], "mark": {"type": "line", "color": "black", "strokeWidth": 2, "strokeDash": [6, 4], "clip": true},
     "encoding": {"x": {"field": "x", "type": "quantitative", "axis": null}, "y": {"field": "y", "type": "quantitative", "axis": null}}},
    {"data": {"name": "inRatio"}, "transform": [{"filter": "datum.s == 'AR 4.06'"}], "mark": {"type": "line", "color": "black", "strokeWidth": 1.6, "strokeDash": [1.5, 2.5], "clip": true},
     "encoding": {"x": {"field": "x", "type": "quantitative", "axis": null}, "y": {"field": "y", "type": "quantitative", "axis": null}}},
    {"data": {"name": "inRatio"}, "transform": [{"filter": "datum.s == 'H 5.8C'"}], "mark": {"type": "line", "color": "black", "strokeWidth": 1.8, "strokeDash": [9, 4, 2, 4], "clip": true},
     "encoding": {"x": {"field": "x", "type": "quantitative", "axis": null}, "y": {"field": "y", "type": "quantitative", "axis": null}}},
    {"data": {"name": "inRatio"}, "transform": [{"filter": "datum.s == 'JT 7.4 ME'"}], "mark": {"type": "line", "color": "black", "strokeWidth": 4, "strokeDash": [0.1, 15], "strokeCap": "round", "clip": true},
     "encoding": {"x": {"field": "x", "type": "quantitative", "axis": null}, "y": {"field": "y", "type": "quantitative", "axis": null}}}
   ],
   "resolve": {"axis": {"x": "independent", "y": "independent"}}
  }
 ], "spacing": 0, "bounds": "flush", "resolve": {"scale": {"shape": "independent"}}},
 {"vconcat": [
  {"width": 495, "height": 96,
   "title": {"text": "pₜᵒᵘᵗ Thr.", "font": "Liberation Serif", "fontSize": 28, "fontWeight": "bold", "color": "black", "anchor": "middle", "dx": -28, "offset": -11, "baseline": "alphabetic"},
   "layer": [
    {"data": {"name": "outCorr"}, "mark": {"type": "line", "color": "black", "strokeWidth": 2, "clip": true},
     "encoding": {
      "x": {"field": "x", "type": "quantitative", "scale": {"domain": [0, 3.5], "nice": false, "zero": false},
            "axis": {"orient": "bottom", "values": [0,0.1,0.2,0.3,0.4,0.5,0.6,0.7,0.8,0.9,1,1.1,1.2,1.3,1.4,1.5,1.6,1.7,1.8,1.9,2,2.1,2.2,2.3,2.4,2.5,2.6,2.7,2.8,2.9,3,3.1,3.2,3.3,3.4,3.5], "labels": false, "title": null, "tickSize": {"condition": {"test": "abs(datum.value*2-round(datum.value*2))<1e-6", "value": -9}, "value": -4.5}}},
      "y": {"field": "y", "type": "quantitative", "scale": {"domain": [0.515, 1.5], "nice": false, "zero": false},
            "axis": {"orient": "left", "values": [0.55,0.6,0.65,0.7,0.75,0.8,0.85,0.9,0.95,1,1.05,1.1,1.15,1.2,1.25,1.3,1.35,1.4,1.45], "labelExpr": "abs(datum.value*5-round(datum.value*5))<1e-6 ? format(datum.value,'~g') : ''", "labelPadding": 15, "title": "corr. fac.", "titlePadding": 12, "minExtent": 34, "maxExtent": 34, "tickSize": {"condition": {"test": "abs(datum.value*5-round(datum.value*5))<1e-6", "value": -9}, "value": -4.5}}}
     }},
    {"data": {"values": [{"ref": 1}]}, "mark": {"type": "rule", "color": "black", "strokeWidth": 1.5, "strokeDash": [4, 3]},
     "encoding": {
      "x": {"datum": 0, "type": "quantitative", "axis": {"orient": "top", "values": [0,0.1,0.2,0.3,0.4,0.5,0.6,0.7,0.8,0.9,1,1.1,1.2,1.3,1.4,1.5,1.6,1.7,1.8,1.9,2,2.1,2.2,2.3,2.4,2.5,2.6,2.7,2.8,2.9,3,3.1,3.2,3.3,3.4,3.5], "labels": false, "title": null, "tickSize": {"condition": {"test": "abs(datum.value*2-round(datum.value*2))<1e-6", "value": -9}, "value": -4.5}}},
      "x2": {"datum": 3.5},
      "y": {"field": "ref", "type": "quantitative", "axis": {"orient": "right", "values": [0.55,0.6,0.65,0.7,0.75,0.8,0.85,0.9,0.95,1,1.05,1.1,1.15,1.2,1.25,1.3,1.35,1.4,1.45], "labels": false, "title": null, "tickSize": {"condition": {"test": "abs(datum.value*5-round(datum.value*5))<1e-6", "value": -9}, "value": -4.5}}}
     }}
   ],
   "resolve": {"axis": {"x": "independent", "y": "independent"}}
  },
  {"width": 495, "height": 411,
   "layer": [
    {"data": {"name": "outMain"}, "transform": [{"filter": "datum.s == 'JT 7.3 PS'"}], "mark": {"type": "line", "color": "black", "strokeWidth": 2, "clip": true},
     "encoding": {
      "x": {"field": "x", "type": "quantitative", "scale": {"domain": [0, 3.5], "nice": false, "zero": false},
            "axis": {"orient": "bottom", "values": [0,0.1,0.2,0.3,0.4,0.5,0.6,0.7,0.8,0.9,1,1.1,1.2,1.3,1.4,1.5,1.6,1.7,1.8,1.9,2,2.1,2.2,2.3,2.4,2.5,2.6,2.7,2.8,2.9,3,3.1,3.2,3.3,3.4,3.5], "labels": false, "title": null, "tickSize": {"condition": {"test": "abs(datum.value*2-round(datum.value*2))<1e-6", "value": -9}, "value": -4.5}}},
      "y": {"field": "y", "type": "quantitative", "scale": {"type": "log", "domain": [0.003, 100], "nice": false},
            "axis": {"orient": "left", "values": [0.003,0.004,0.005,0.006,0.007,0.008,0.009,0.01,0.02,0.03,0.04,0.05,0.06,0.07,0.08,0.09,0.1,0.2,0.3,0.4,0.5,0.6,0.7,0.8,0.9,1,2,3,4,5,6,7,8,9,10,20,30,40,50,60,70,80,90], "labelExpr": "datum.value == 10 ? '10' : datum.value == 1 ? '1' : datum.value == 0.1 ? '10⁻¹' : datum.value == 0.01 ? '10⁻²' : ''", "labelPadding": 15, "title": "1/N dN/dpₜᵒᵘᵗ", "titleAnchor": "end", "titlePadding": 12, "minExtent": 34, "maxExtent": 34, "tickSize": {"condition": {"test": "abs(log(datum.value)/LN10-round(log(datum.value)/LN10))<1e-6", "value": -9}, "value": -4.5}}}
     }},
    {"data": {"name": "outMain"}, "transform": [{"filter": "datum.s == 'JT 7.4 PS'"}], "mark": {"type": "line", "color": "black", "strokeWidth": 2, "strokeDash": [6, 4], "clip": true},
     "encoding": {"x": {"field": "x", "type": "quantitative", "axis": null}, "y": {"field": "y", "type": "quantitative", "axis": null}}},
    {"data": {"name": "outMain"}, "transform": [{"filter": "datum.s == 'AR 4.06'"}], "mark": {"type": "line", "color": "black", "strokeWidth": 1.6, "strokeDash": [1.5, 2.5], "clip": true},
     "encoding": {"x": {"field": "x", "type": "quantitative", "axis": null}, "y": {"field": "y", "type": "quantitative", "axis": null}}},
    {"data": {"name": "outMain"}, "transform": [{"filter": "datum.s == 'H 5.8C'"}], "mark": {"type": "line", "color": "black", "strokeWidth": 1.8, "strokeDash": [9, 4, 2, 4], "clip": true},
     "encoding": {"x": {"field": "x", "type": "quantitative", "axis": null}, "y": {"field": "y", "type": "quantitative", "axis": null}}},
    {"data": {"name": "outMain"}, "transform": [{"filter": "datum.s == 'JT 7.4 ME'"}], "mark": {"type": "line", "color": "black", "strokeWidth": 3.5, "strokeDash": [0.1, 15], "strokeCap": "round", "clip": true},
     "encoding": {"x": {"field": "x", "type": "quantitative", "axis": null}, "y": {"field": "y", "type": "quantitative", "axis": null}}},
    {"data": {"name": "outMain"}, "transform": [{"filter": "datum.s == 'geladene Spuren'"}], "mark": {"type": "point", "filled": true, "color": "black", "opacity": 1, "size": 324},
     "encoding": {
      "x": {"field": "x", "type": "quantitative", "axis": {"orient": "top", "values": [0,0.1,0.2,0.3,0.4,0.5,0.6,0.7,0.8,0.9,1,1.1,1.2,1.3,1.4,1.5,1.6,1.7,1.8,1.9,2,2.1,2.2,2.3,2.4,2.5,2.6,2.7,2.8,2.9,3,3.1,3.2,3.3,3.4,3.5], "labels": false, "title": null, "tickSize": {"condition": {"test": "abs(datum.value*2-round(datum.value*2))<1e-6", "value": -9}, "value": -4.5}}},
      "y": {"field": "y", "type": "quantitative", "axis": {"orient": "right", "values": [0.003,0.004,0.005,0.006,0.007,0.008,0.009,0.01,0.02,0.03,0.04,0.05,0.06,0.07,0.08,0.09,0.1,0.2,0.3,0.4,0.5,0.6,0.7,0.8,0.9,1,2,3,4,5,6,7,8,9,10,20,30,40,50,60,70,80,90], "labels": false, "title": null, "tickSize": {"condition": {"test": "abs(log(datum.value)/LN10-round(log(datum.value)/LN10))<1e-6", "value": -9}, "value": -4.5}}},
      "shape": {"field": "s", "type": "nominal",
        "scale": {"domain": ["geladene Spuren", "JT 7.3 PS", "JT 7.4 PS", "AR 4.06", "H 5.8C", "JT 7.4 ME"],
                  "range": ["M-0.47,0A0.47,0.47,0,1,0,0.47,0A0.47,0.47,0,1,0,-0.47,0Z", "M-1.28,-0.1H1.28V0.1H-1.28Z", "M-1.28,-0.1H-0.68V0.1H-1.28ZM-0.3,-0.1H0.3V0.1H-0.3ZM0.68,-0.1H1.28V0.1H0.68Z", "M-1.28,-0.08h0.16v0.16h-0.16ZM-0.98,-0.08h0.16v0.16h-0.16ZM-0.68,-0.08h0.16v0.16h-0.16ZM-0.38,-0.08h0.16v0.16h-0.16ZM-0.08,-0.08h0.16v0.16h-0.16ZM0.22,-0.08h0.16v0.16h-0.16ZM0.52,-0.08h0.16v0.16h-0.16ZM0.82,-0.08h0.16v0.16h-0.16ZM1.12,-0.08h0.16v0.16h-0.16Z", "M-1.28,-0.1H-0.5V0.1H-1.28ZM-0.1,-0.1H0.1V0.1H-0.1ZM0.5,-0.1H1.28V0.1H0.5Z", "M-1.17,0A0.22,0.22,0,1,0,-0.73,0A0.22,0.22,0,1,0,-1.17,0ZM0.73,0A0.22,0.22,0,1,0,1.17,0A0.22,0.22,0,1,0,0.73,0Z"]},
        "legend": {"orient": "none", "legendX": 263, "legendY": 34, "title": null, "labelFont": "Liberation Serif", "labelFontWeight": "bold", "labelFontSize": 16, "labelColor": "black", "symbolSize": 324, "labelOffset": 15, "rowPadding": 2.6, "padding": 0, "symbolFillColor": "black", "symbolStrokeWidth": 0}}
     }},
    {"data": {"values": [{"label": "DELPHI"}]}, "mark": {"type": "text", "font": "Liberation Serif", "fontWeight": "bold", "fontSize": 28, "color": "black", "align": "center", "baseline": "middle"},
     "encoding": {"x": {"datum": 0.735, "type": "quantitative", "axis": null}, "y": {"datum": 0.0181, "type": "quantitative", "axis": null}, "text": {"field": "label"}}}
   ],
   "resolve": {"axis": {"x": "independent", "y": "independent"}}
  },
  {"width": 495, "height": 168,
   "layer": [
    {"data": {"name": "outBand"}, "mark": {"type": "area", "color": "#ffff00", "opacity": 1, "clip": true},
     "encoding": {
      "x": {"field": "x", "type": "quantitative", "scale": {"domain": [0, 3.5], "nice": false, "zero": false},
            "axis": {"orient": "bottom", "values": [0,0.1,0.2,0.3,0.4,0.5,0.6,0.7,0.8,0.9,1,1.1,1.2,1.3,1.4,1.5,1.6,1.7,1.8,1.9,2,2.1,2.2,2.3,2.4,2.5,2.6,2.7,2.8,2.9,3,3.1,3.2,3.3,3.4,3.5], "labelExpr": "abs(datum.value*2-round(datum.value*2))<1e-6 ? format(datum.value,'~g') : ''", "labelPadding": 13, "title": "pₜᵒᵘᵗ[GeV]", "titleAnchor": "end", "titlePadding": -2, "tickSize": {"condition": {"test": "abs(datum.value*2-round(datum.value*2))<1e-6", "value": -9}, "value": -4.5}}},
      "y": {"field": "lo", "type": "quantitative", "scale": {"domain": [-0.398, 0.1], "nice": false, "zero": false},
            "axis": {"orient": "left", "values": [-0.38,-0.36,-0.34,-0.32,-0.3,-0.28,-0.26,-0.24,-0.22,-0.2,-0.18,-0.16,-0.14,-0.12,-0.1,-0.08,-0.06,-0.04,-0.02,0,0.02,0.04,0.06,0.08], "labelExpr": "abs(datum.value*10-round(datum.value*10))<1e-6 ? (datum.value < 0 ? '-' : '') + format(abs(datum.value),'~g') : ''", "labelPadding": 15, "title": "(MC-Data)/Data", "titlePadding": 12, "minExtent": 34, "maxExtent": 34, "tickSize": {"condition": {"test": "abs(datum.value*10-round(datum.value*10))<1e-6", "value": -9}, "value": -4.5}}},
      "y2": {"field": "hi"}
     }},
    {"data": {"values": [{"ref": 0}]}, "mark": {"type": "rule", "color": "black", "strokeWidth": 2},
     "encoding": {
      "x": {"datum": 0, "type": "quantitative", "axis": {"orient": "top", "values": [0,0.1,0.2,0.3,0.4,0.5,0.6,0.7,0.8,0.9,1,1.1,1.2,1.3,1.4,1.5,1.6,1.7,1.8,1.9,2,2.1,2.2,2.3,2.4,2.5,2.6,2.7,2.8,2.9,3,3.1,3.2,3.3,3.4,3.5], "labels": false, "title": null, "tickSize": {"condition": {"test": "abs(datum.value*2-round(datum.value*2))<1e-6", "value": -9}, "value": -4.5}}},
      "x2": {"datum": 3.5},
      "y": {"field": "ref", "type": "quantitative", "axis": {"orient": "right", "values": [-0.38,-0.36,-0.34,-0.32,-0.3,-0.28,-0.26,-0.24,-0.22,-0.2,-0.18,-0.16,-0.14,-0.12,-0.1,-0.08,-0.06,-0.04,-0.02,0,0.02,0.04,0.06,0.08], "labels": false, "title": null, "tickSize": {"condition": {"test": "abs(datum.value*10-round(datum.value*10))<1e-6", "value": -9}, "value": -4.5}}}
     }},
    {"data": {"name": "outRatio"}, "transform": [{"filter": "datum.s == 'JT 7.3 PS'"}], "mark": {"type": "line", "color": "black", "strokeWidth": 2, "clip": true},
     "encoding": {"x": {"field": "x", "type": "quantitative", "axis": null}, "y": {"field": "y", "type": "quantitative", "axis": null}}},
    {"data": {"name": "outRatio"}, "transform": [{"filter": "datum.s == 'JT 7.4 PS'"}], "mark": {"type": "line", "color": "black", "strokeWidth": 2, "strokeDash": [6, 4], "clip": true},
     "encoding": {"x": {"field": "x", "type": "quantitative", "axis": null}, "y": {"field": "y", "type": "quantitative", "axis": null}}},
    {"data": {"name": "outRatio"}, "transform": [{"filter": "datum.s == 'AR 4.06'"}], "mark": {"type": "line", "color": "black", "strokeWidth": 1.6, "strokeDash": [1.5, 2.5], "clip": true},
     "encoding": {"x": {"field": "x", "type": "quantitative", "axis": null}, "y": {"field": "y", "type": "quantitative", "axis": null}}},
    {"data": {"name": "outRatio"}, "transform": [{"filter": "datum.s == 'H 5.8C'"}], "mark": {"type": "line", "color": "black", "strokeWidth": 1.8, "strokeDash": [9, 4, 2, 4], "clip": true},
     "encoding": {"x": {"field": "x", "type": "quantitative", "axis": null}, "y": {"field": "y", "type": "quantitative", "axis": null}}},
    {"data": {"name": "outRatio"}, "transform": [{"filter": "datum.s == 'JT 7.4 ME'"}], "mark": {"type": "line", "color": "black", "strokeWidth": 4, "strokeDash": [0.1, 15], "strokeCap": "round", "clip": true},
     "encoding": {"x": {"field": "x", "type": "quantitative", "axis": null}, "y": {"field": "y", "type": "quantitative", "axis": null}}}
   ],
   "resolve": {"axis": {"x": "independent", "y": "independent"}}
  }
 ], "spacing": 0, "bounds": "flush", "resolve": {"scale": {"shape": "independent"}}}
]
}
